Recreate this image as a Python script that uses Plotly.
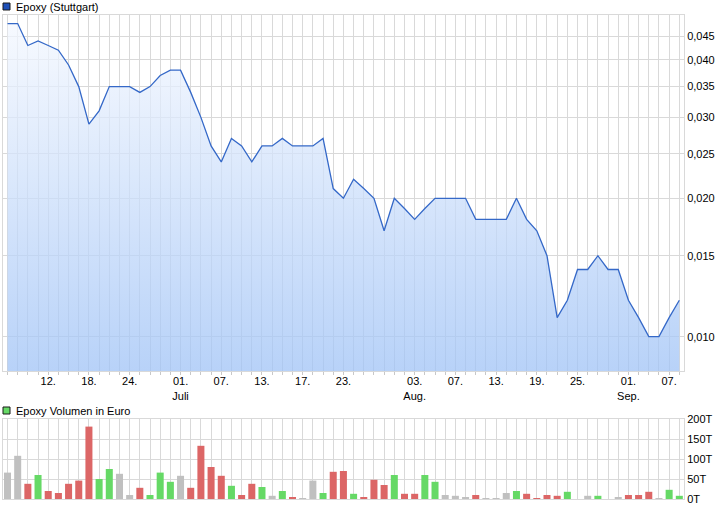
import math
import plotly.graph_objects as go

# ---------------- data ----------------
price = [0.048, 0.048, 0.043, 0.044, 0.043, 0.042, 0.039, 0.035, 0.029, 0.031,
         0.035, 0.035, 0.035, 0.034, 0.035, 0.037, 0.038, 0.038, 0.034, 0.030,
         0.026, 0.024, 0.027, 0.026, 0.024, 0.026, 0.026, 0.027, 0.026, 0.026,
         0.026, 0.027, 0.021, 0.020, 0.022, 0.021, 0.020, 0.017, 0.020, 0.019,
         0.018, 0.019, 0.020, 0.020, 0.020, 0.020, 0.018, 0.018, 0.018, 0.018,
         0.020, 0.018, 0.017, 0.015, 0.011, 0.012, 0.014, 0.014, 0.015, 0.014,
         0.014, 0.012, 0.011, 0.010, 0.010, 0.011, 0.012]

volume_t = [66, 108, 38, 60, 20, 15, 38, 46, 181, 50,
            75, 63, 10, 28, 10, 66, 43, 58, 28, 133,
            80, 58, 33, 10, 38, 30, 8, 20, 5, 2,
            46, 15, 68, 70, 13, 5, 48, 35, 60, 13,
            13, 60, 43, 10, 8, 5, 10, 2, 2, 15,
            20, 13, 2, 10, 8, 18, 0, 8, 8, 0,
            3, 10, 10, 18, 2, 23, 8]

tick_index = [4, 8, 12, 17, 21, 25, 29, 33, 40, 44, 48, 52, 56, 61, 65]
tick_text = ["12.", "18.", "24.", "01.<br>Juli", "07.", "13.", "17.", "23.",
             "03.<br>Aug.", "07.", "13.", "19.", "25.", "01.<br>Sep.", "07."]

price_ticks = [0.010, 0.015, 0.020, 0.025, 0.030, 0.035, 0.040, 0.045]
vol_ticks = [0, 50, 100, 150, 200]
vol_tick_text = ["0T", "50T", "100T", "150T", "200T"]

series_name = "Epoxy (Stuttgart)"
volume_name = "Epoxy Volumen in Euro"

# ---------------- styling ----------------
FONT = "Liberation Sans"
GRID = "#d9d9d9"
LINE = "#3468c8"
RED, GREEN, GRAY = "#dc6666", "#66d966", "#c0c0c0"

W, H = 726, 508
ML, MR, MT, MB = 3, 42, 15, 9
PW, PH = W - ML - MR, H - MT - MB

def px_x(x):
    return (x - ML) / PW

def px_y(y):
    return (H - MB - y) / PH

n = len(price)
idx = list(range(n))

# volume bar colour from price move
bar_colors = []
for i in range(n):
    if i == 0 or price[i] == price[i - 1]:
        bar_colors.append(GRAY)
    elif price[i] > price[i - 1]:
        bar_colors.append(GREEN)
    else:
        bar_colors.append(RED)

y_lo, y_hi = 0.00842, 0.0501

fig = go.Figure()
fig.add_trace(go.Scatter(
    x=idx, y=price, mode="lines",
    line=dict(color=LINE, width=1.3),
    fill="tozeroy",
    fillgradient=dict(type="vertical",
                      colorscale=[[0, "rgba(160,195,246,0.75)"],
                                  [1, "rgba(246,249,255,0.75)"]],
                      start=y_lo, stop=y_hi),
    xaxis="x", yaxis="y", showlegend=False, hoverinfo="skip"))

fig.add_trace(go.Bar(
    x=idx, y=volume_t, marker=dict(color=bar_colors, line=dict(width=0)),
    width=0.69, xaxis="x2", yaxis="y2", showlegend=False, hoverinfo="skip"))

x_range = [-0.442, n - 1 + 0.46]
tfont = dict(family=FONT, size=11, color="#000000")

fig.update_layout(
    width=W, height=H,
    margin=dict(l=ML, r=MR, t=MT, b=MB, pad=0, autoexpand=False),
    paper_bgcolor="white", plot_bgcolor="white",
    separators=",.",
    bargap=0.31,
    xaxis=dict(domain=[0, 1], range=x_range, anchor="y", automargin=False,
               tickmode="array", tickvals=tick_index, ticktext=tick_text,
               tickfont=tfont, ticks="", showgrid=True, gridcolor=GRID, gridwidth=1,
               minor=dict(tickmode="linear", tick0=0, dtick=1, showgrid=True,
                          gridcolor=GRID, ticks="outside", ticklen=3, tickcolor="#c8c8c8"),
               showline=True, linecolor=GRID, linewidth=1, mirror=True, zeroline=False),
    yaxis=dict(domain=[px_y(371), 1], type="log", automargin=False,
               range=[math.log10(y_lo), math.log10(y_hi)],
               side="right", anchor="x", tickmode="array", tickvals=price_ticks,
               tickformat=".3f", tickfont=tfont, ticks="",
               showgrid=True, gridcolor=GRID, gridwidth=1,
               showline=True, linecolor=GRID, linewidth=1, mirror=True, zeroline=False),
    xaxis2=dict(domain=[0, 1], range=x_range, anchor="y2", matches="x", automargin=False,
                showticklabels=False, ticks="",
                tickmode="linear", tick0=0, dtick=1,
                showgrid=True, gridcolor=GRID, gridwidth=1,
                showline=True, linecolor=GRID, linewidth=1, mirror=True, zeroline=False),
    yaxis2=dict(domain=[0, px_y(419)], range=[0, 200], side="right", anchor="x2",
                automargin=False,
                tickmode="array", tickvals=vol_ticks, ticktext=vol_tick_text,
                tickfont=tfont, ticks="", showgrid=True, gridcolor=GRID, gridwidth=1,
                showline=True, linecolor=GRID, linewidth=1, mirror=True, zeroline=False),
)

# legend-like labels
legend_items = [(series_name, "#1d4fb8", 3, 7),
                (volume_name, GREEN, 407, 411)]
for text, col, ytop, ymid in legend_items:
    fig.add_shape(type="rect", xref="paper", yref="paper",
                  x0=px_x(3), x1=px_x(10), y0=px_y(ytop + 7), y1=px_y(ytop),
                  fillcolor=col, line=dict(color="#1a1a1a", width=1))
    fig.add_annotation(text=text, xref="paper", yref="paper",
                       x=px_x(14), y=px_y(ymid), xanchor="left", yanchor="middle",
                       showarrow=False, font=dict(family=FONT, size=11, color="#000000"))

fig.write_html("out.html",
               config={"displayModeBar": False},
               post_script="document.body.style.margin='0';document.body.style.padding='0';")
